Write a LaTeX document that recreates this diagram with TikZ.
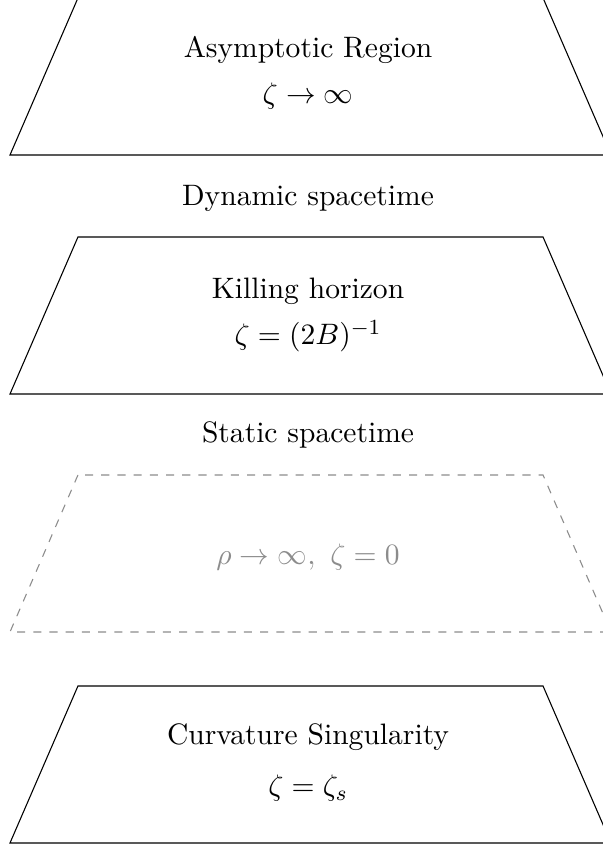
\documentclass[tikz,border=0pt]{standalone}
\usepackage{amsmath,amssymb}
\usepackage{tikz}
\usepackage{xcolor}
\usetikzlibrary{positioning}
\definecolor{ink}     {HTML}{000000}
\definecolor{fadegray}{HTML}{8C8C8C}
\tikzset{
  sheet/.style      ={draw=ink, line width=0.4pt},
  ghostsheet/.style ={draw=fadegray, line width=0.4pt, dashed},
  sheetlabel/.style ={anchor=base, inner sep=0pt, text=ink,
                      font=\fontsize{10.95}{13.6}\selectfont},
  ghostlabel/.style ={anchor=base, inner sep=0pt, text=fadegray,
                      font=\fontsize{10.95}{13.6}\selectfont},
}
\begin{document}
\begin{tikzpicture}[x=1cm,y=1cm]
        \useasboundingbox (0,0) rectangle (7.837,11.039);
        % the four sheets
        \draw[sheet] (1.030,11.100) -- (0.130,9.021) -- (7.954,9.021) -- (7.054,11.100) -- cycle;
        \draw[sheet] (1.015,7.954) -- (0.130,5.910) -- (7.954,5.910) -- (7.069,7.954) -- cycle;
        \draw[ghostsheet] (1.015,4.856) -- (0.130,2.812) -- (7.954,2.812) -- (7.069,4.856) -- cycle;
        \draw[sheet] (1.015,2.109) -- (0.130,0.065) -- (7.954,0.065) -- (7.069,2.109) -- cycle;
        % labels
        \node[sheetlabel] (asym)    at (4.010,10.284) {Asymptotic Region};
        \node[sheetlabel] (asymz)   at (4.010,9.698)  {$\zeta\to\infty$};
        \node[sheetlabel] (dynamic) at (4.010,8.358)  {Dynamic spacetime};
        \node[sheetlabel] (killing) at (4.010,7.147)  {Killing horizon};
        \node[sheetlabel] (killz)   at (4.010,6.548)  {$\zeta=(2B)^{-1}$};
        \node[sheetlabel] (static)  at (4.010,5.285)  {Static spacetime};
        \node[ghostlabel] (rhoinf)  at (4.010,3.684)  {$\rho\to\infty,\ \zeta=0$};
        \node[sheetlabel] (sing)    at (4.010,1.341)  {Curvature Singularity};
        \node[sheetlabel] (singz)   at (4.010,0.677)  {$\zeta=\zeta_s$};
      \end{tikzpicture}
\end{document}
